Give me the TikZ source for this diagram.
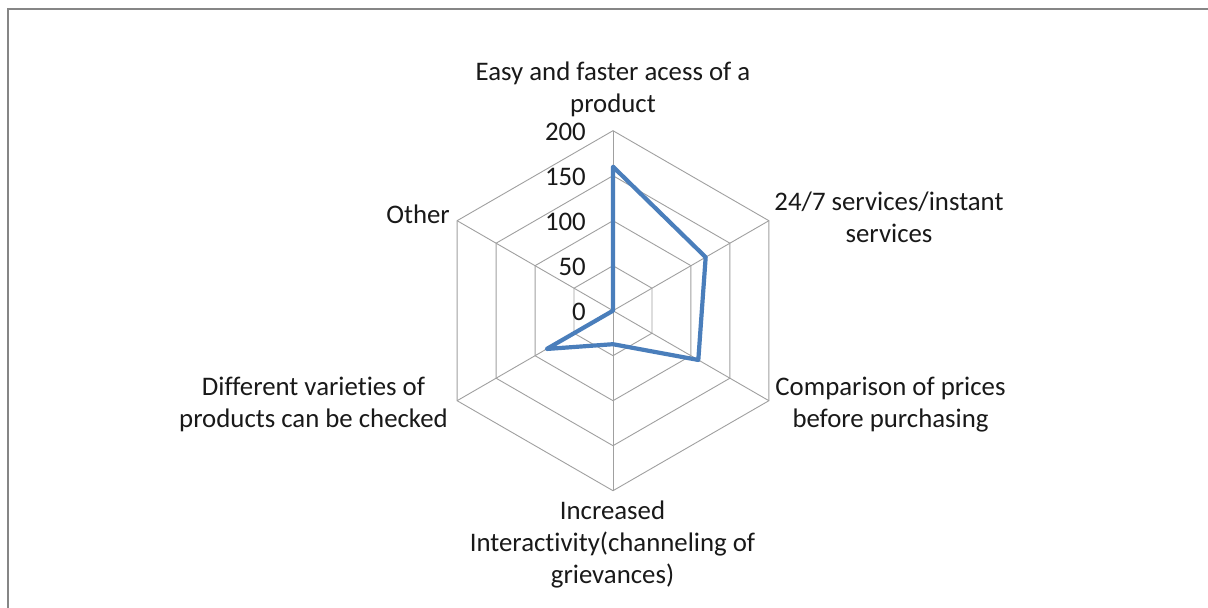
\documentclass[tikz,border=0pt]{standalone}
\usepackage{fontspec}
\setmainfont{Carlito}[Ligatures=NoCommon]
\definecolor{gridgray}{HTML}{A0A0A0}
\definecolor{framegray}{HTML}{868686}
\definecolor{seriesblue}{HTML}{4A7EBB}
\begin{document}
\begin{tikzpicture}[x=1pt,y=-1pt,
  grid/.style={draw=gridgray, line width=0.9pt},
  series/.style={draw=seriesblue, line width=4.2pt, line join=round},
  lbl/.style={font=\fontsize{26.8}{32}\selectfont, align=center, inner sep=0pt, text=black!90, anchor=base},
  ticklbl/.style={font=\fontsize{26.8}{32}\selectfont, anchor=east, inner sep=0pt, text=black!90}]
\useasboundingbox (0,0) rectangle (1208,608);
\fill[white] (0,0) rectangle (1208,608);
\draw[framegray, line width=2pt] (8,608) -- (8,9) -- (1208,9);
\begin{scope}[shift={(613,310.7)}]
  \coordinate (C) at (0,0);
  \foreach \r in {45,90,135,180}
    \draw[grid] (-90:\r) -- (-30:\r) -- (30:\r) -- (90:\r) -- (150:\r) -- (210:\r) -- cycle;
  \foreach \a in {-90,-30,30,90,150,210}
    \draw[grid] (C) -- (\a:180);
  \coordinate (d1) at (-90:144);
  \coordinate (d2) at (-30:107);
  \coordinate (d3) at (30:98.5);
  \coordinate (d4) at (90:33.5);
  \coordinate (d5) at (150:76.5);
  \coordinate (d6) at (210:0);
  \draw[series] (d1) -- (d2) -- (d3) -- (d4) -- (d5) -- (d6) -- cycle;
\end{scope}
\node[ticklbl] (t200) at (586,132) {200};
\node[ticklbl] (t150) at (586,177) {150};
\node[ticklbl] (t100) at (586,222) {100};
\node[ticklbl] (t50) at (586,267) {50};
\node[ticklbl] (t0) at (586,312) {0};
\node[lbl] (l1) at (613,112.5) {Easy and faster acess of a\\product};
\node[lbl] (l2) at (889,242) {24/7 services/instant\\services};
\node[lbl] (l3) at (890.5,427.5) {Comparison of prices\\before purchasing};
\node[lbl] (l4) at (612.5,583) {Increased\\Interactivity(channeling of\\grievances)};
\node[lbl] (l5) at (313.5,427.5) {Different varieties of\\products can be checked};
\node[lbl, anchor=base east] (l6) at (450,223) {Other};
\end{tikzpicture}
\end{document}
